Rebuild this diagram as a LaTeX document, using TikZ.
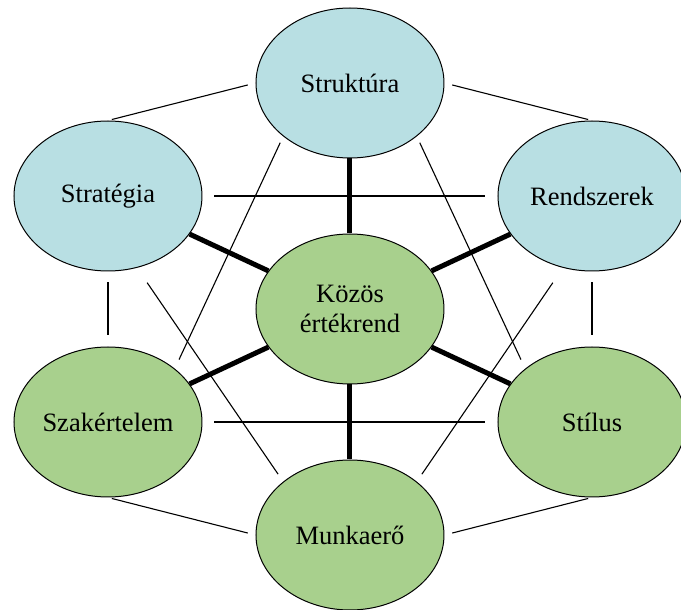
\documentclass[tikz,border=0pt]{standalone}
\usepackage{fontspec}
\setmainfont{Liberation Serif}
\usetikzlibrary{shapes.geometric}

\definecolor{kekfill}{RGB}{184,223,227}
\definecolor{zoldfill}{RGB}{168,208,141}

\def\dX{242}
\def\dY{113}

\begin{document}
\begin{tikzpicture}[x=1pt, y=1pt,
    elem/.style={shape=ellipse, draw=black, line width=1pt,
                 minimum width=188pt, minimum height=150pt, inner sep=0pt,
                 font=\fontsize{26.5}{30}\selectfont, align=center},
    kek/.style={elem, fill=kekfill},
    zold/.style={elem, fill=zoldfill},
    vekony/.style={line width=1.1pt},
    vastag/.style={line width=5pt}]
    \useasboundingbox (-350,-301) rectangle (331,309);

    %%   (lable)  (x, y)     {\text}
    \node[kek]  (STR) at (0,     2*\dY) {Struktúra};
    \node[kek]  (STG) at (-\dX,    \dY) {Stratégia};
    \node[kek]  (RSZ) at (+\dX,    \dY) {Rendszerek};
    \node[zold] (KOZ) at (0,         0) {Közös\\értékrend};
    \node[zold] (SZK) at (-\dX,   -\dY) {Szakértelem};
    \node[zold] (STL) at (+\dX,   -\dY) {Stílus};
    \node[zold] (MUN) at (0,    -2*\dY) {Munkaerő};

    \path (KOZ) edge[vastag] (STR);
    \path (KOZ) edge[vastag] (STG);
    \path (KOZ) edge[vastag] (RSZ);
    \path (KOZ) edge[vastag] (SZK);
    \path (KOZ) edge[vastag] (STL);
    \path (KOZ) edge[vastag] (MUN);

    \path (STG.north) edge[vekony, shorten <=4pt, shorten >=8pt] (STR.west);
    \path (STR.east)  edge[vekony, shorten <=8pt, shorten >=4pt] (RSZ.north);
    \path (STG.east)  edge[vekony, shorten <=12pt, shorten >=12pt] (RSZ.west);
    \path (STG.south) edge[vekony, shorten <=11pt, shorten >=11pt] (SZK.north);
    \path (RSZ.south) edge[vekony, shorten <=11pt, shorten >=11pt] (STL.north);
    \path (SZK.east)  edge[vekony, shorten <=12pt, shorten >=12pt] (STL.west);
    \path (SZK.south) edge[vekony, shorten <=4pt, shorten >=8pt] (MUN.west);
    \path (MUN.east)  edge[vekony, shorten <=8pt, shorten >=4pt] (STL.south);

    \path (STR.south west) edge[vekony, shorten <=7pt, shorten >=10pt] (SZK.north east);
    \path (STR.south east) edge[vekony, shorten <=7pt, shorten >=10pt] (STL.north west);
    \path (STG.-68)  edge[vekony, shorten <=18pt, shorten >=9pt] (MUN.north west);
    \path (RSZ.-112) edge[vekony, shorten <=18pt, shorten >=9pt] (MUN.north east);

  \end{tikzpicture}
\end{document}
